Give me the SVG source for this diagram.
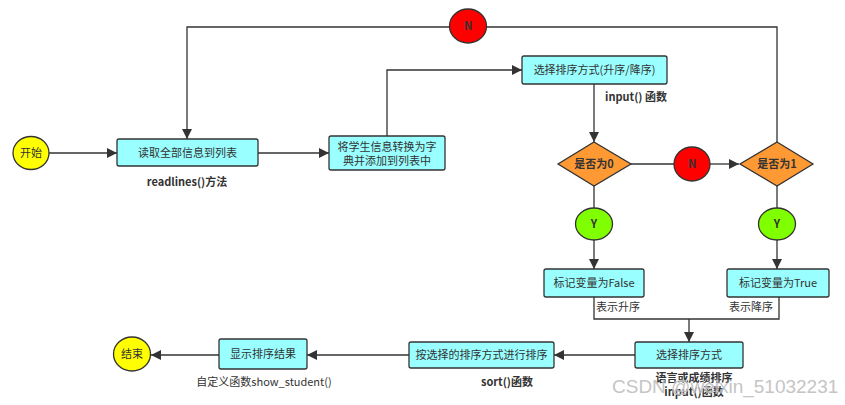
<svg xmlns="http://www.w3.org/2000/svg" width="845" height="405" viewBox="0 0 845 405">
<defs>
<marker id="arr" viewBox="0 0 10 10" refX="10" refY="5" markerWidth="10" markerHeight="10" markerUnits="userSpaceOnUse" orient="auto">
<path d="M0,0 L10,5 L0,10 z" fill="#333"/>
</marker>
</defs>
<style>
.box{fill:#99ffff;stroke:#333;stroke-width:1.3}
.yel{fill:#ffff00;stroke:#333;stroke-width:1.3}
.red{fill:#ff0000;stroke:#333;stroke-width:1.3}
.grn{fill:#80ff00;stroke:#333;stroke-width:1.3}
.dia{fill:#ff9933;stroke:#333;stroke-width:1.3}
.t{font-family:"Noto Sans CJK SC","Liberation Sans",sans-serif;font-size:11px;fill:#333;text-anchor:middle}
.lb{font-family:"Noto Sans CJK SC","Liberation Sans",sans-serif;font-size:11px;font-weight:bold;fill:#333;text-anchor:middle}
.c{fill:none;stroke:#333;stroke-width:1.3}
.wm{font-family:"Liberation Sans",Arial,sans-serif;font-size:19px;fill:#bbb;stroke:#fff;stroke-width:0.6;paint-order:stroke;opacity:0.85}
</style>
<rect width="845" height="405" fill="#fff"/>
<g id="connectors">
<path class="c" d="M49,153 H117" marker-end="url(#arr)"/>
<path class="c" d="M258,153 H329" marker-end="url(#arr)"/>
<path class="c" d="M387,136 V70 H522" marker-end="url(#arr)"/>
<path class="c" d="M594,84 V142" marker-end="url(#arr)"/>
<path class="c" d="M631,164 H674"/>
<path class="c" d="M710,164 H739" marker-end="url(#arr)"/>
<path class="c" d="M777,142 V27 H486"/>
<path class="c" d="M450,27 H187 V139" marker-end="url(#arr)"/>
<path class="c" d="M594,186 V208"/>
<path class="c" d="M594,240 V269" marker-end="url(#arr)"/>
<path class="c" d="M777,186 V208"/>
<path class="c" d="M777,240 V269" marker-end="url(#arr)"/>
<path class="c" d="M594,297 V319 H779 V297"/>
<path class="c" d="M689,319 V342" marker-end="url(#arr)"/>
<path class="c" d="M635,355 H554" marker-end="url(#arr)"/>
<path class="c" d="M409,355 H307" marker-end="url(#arr)"/>
<path class="c" d="M219,355 H151" marker-end="url(#arr)"/>
</g>
<g id="start"><ellipse class="yel" cx="31" cy="153" rx="18" ry="16.5"/><text class="t" x="31" y="157">开始</text></g>
<g id="read"><rect class="box" x="117" y="139" width="141" height="27" rx="2"/><text class="t" x="187.5" y="157">读取全部信息到列表</text></g>
<text class="lb" x="187" y="186">readlines()方法</text>
<g id="convert"><rect class="box" x="329" y="136" width="116" height="34" rx="2"/><text class="t" x="387" y="151">将学生信息转换为字</text><text class="t" x="387" y="165">典并添加到列表中</text></g>
<g id="choose"><rect class="box" x="522" y="56" width="145" height="28" rx="2"/><text class="t" x="594.5" y="74">选择排序方式(升序/降序)</text></g>
<text class="lb" x="636" y="101">input() 函数</text>
<g id="d0"><polygon class="dia" points="594,142 631,164 594,186 558,164"/><text class="lb" x="594" y="168">是否为0</text></g>
<g id="nmid"><ellipse class="red" cx="692" cy="164" rx="18" ry="17"/><text class="lb" x="692" y="168">N</text></g>
<g id="d1"><polygon class="dia" points="777,142 813,164 777,186 740,164"/><text class="lb" x="777" y="168">是否为1</text></g>
<g id="ntop"><ellipse class="red" cx="468" cy="26" rx="18.5" ry="17"/><text class="lb" x="468" y="30">N</text></g>
<g id="y0"><ellipse class="grn" cx="594" cy="224" rx="18.5" ry="16"/><text class="lb" x="594" y="228">Y</text></g>
<g id="y1"><ellipse class="grn" cx="777" cy="224" rx="18.5" ry="16"/><text class="lb" x="777" y="228">Y</text></g>
<g id="false"><rect class="box" x="544" y="269" width="100" height="28" rx="2"/><text class="t" x="594" y="287">标记变量为False</text></g>
<text class="t" x="618" y="311">表示升序</text>
<g id="true"><rect class="box" x="727" y="269" width="102" height="28" rx="2"/><text class="t" x="778" y="287">标记变量为True</text></g>
<text class="t" x="751" y="311">表示降序</text>
<g id="sel"><rect class="box" x="635" y="342" width="108" height="26" rx="2"/><text class="t" x="689" y="359">选择排序方式</text></g>
<text class="lb" x="694" y="382">语言或成绩排序</text>
<text class="lb" x="694" y="396">input()函数</text>
<g id="sortbox"><rect class="box" x="409" y="342" width="145" height="26" rx="2"/><text class="t" x="481.5" y="359">按选择的排序方式进行排序</text></g>
<text class="lb" x="507" y="386">sort()函数</text>
<g id="show"><rect class="box" x="219" y="339" width="88" height="30" rx="2"/><text class="t" x="263" y="358">显示排序结果</text></g>
<text class="t" x="264" y="386">自定义函数show_student()</text>
<g id="end"><ellipse class="yel" cx="132" cy="354" rx="18.5" ry="17"/><text class="t" x="132" y="358">结束</text></g>
<text class="wm" x="612" y="393">CSDN @weixin_51032231</text>
</svg>
